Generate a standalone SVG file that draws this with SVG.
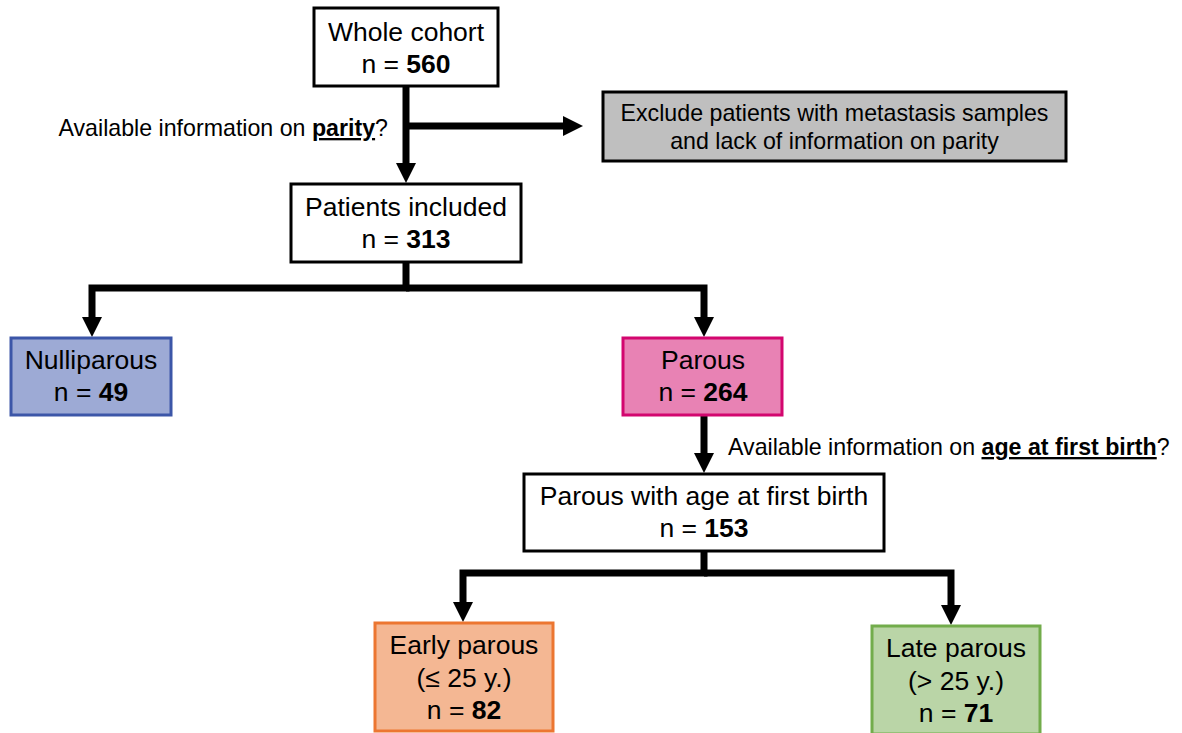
<svg xmlns="http://www.w3.org/2000/svg" width="1182" height="733" viewBox="0 0 1182 733">
<style>
text{font-family:"Liberation Sans",Arial,sans-serif;fill:#000;text-anchor:middle}
.t{font-size:26.5px}
.s{font-size:23.2px}
.b{font-weight:bold}
.u{font-weight:bold;text-decoration:underline}
.box{stroke-width:3}
.conn{fill:none;stroke:#000;stroke-width:7;stroke-linejoin:miter;stroke-linecap:butt}
</style>
<defs>
<marker id="ah" viewBox="0 -10 20 20" refX="1" refY="0" markerWidth="20" markerHeight="20" markerUnits="userSpaceOnUse" orient="auto">
<path d="M0,-10 L20,0 L0,10 z" fill="#000"/>
</marker>
</defs>
<rect width="1182" height="733" fill="#fff"/>
<g id="connectors">
<path class="conn" d="M406,86 V164" marker-end="url(#ah)"/>
<path class="conn" d="M406,126 H564" marker-end="url(#ah)"/>
<path class="conn" d="M406,262 V288 H92 V318" marker-end="url(#ah)"/>
<path class="conn" d="M406,288 H704 V318" marker-end="url(#ah)"/>
<path class="conn" d="M704,415 V454" marker-end="url(#ah)"/>
<path class="conn" d="M704,551 V573 H463 V603" marker-end="url(#ah)"/>
<path class="conn" d="M704,573 H951 V606" marker-end="url(#ah)"/>
<text class="s" x="388" y="136" style="text-anchor:end">Available information on <tspan class="u">parity</tspan>?</text>
<text class="s" x="728" y="455" style="text-anchor:start">Available information on <tspan class="u">age at first birth</tspan>?</text>
</g>
<g id="whole-cohort">
<rect class="box" x="314" y="8" width="184" height="78" fill="#fff" stroke="#000"/>
<text class="t" x="406" y="41">Whole cohort</text>
<text class="t" x="406" y="73">n = <tspan class="b">560</tspan></text>
</g>
<g id="exclude">
<rect class="box" x="603" y="92" width="463" height="69" fill="#bfbfbf" stroke="#000"/>
<text class="s" x="834.5" y="121">Exclude patients with metastasis samples</text>
<text class="s" x="834.5" y="149">and lack of information on parity</text>
</g>
<g id="patients-included">
<rect class="box" x="291" y="184" width="230" height="78" fill="#fff" stroke="#000"/>
<text class="t" x="406" y="216">Patients included</text>
<text class="t" x="406" y="248">n = <tspan class="b">313</tspan></text>
</g>
<g id="nulliparous">
<rect class="box" x="11" y="338" width="160" height="77" fill="#9daad5" stroke="#3c56a8"/>
<text class="t" x="91" y="369">Nulliparous</text>
<text class="t" x="91" y="401">n = <tspan class="b">49</tspan></text>
</g>
<g id="parous">
<rect class="box" x="623" y="338" width="159" height="77" fill="#e882b4" stroke="#d3066f"/>
<text class="t" x="703" y="369">Parous</text>
<text class="t" x="703" y="401">n = <tspan class="b">264</tspan></text>
</g>
<g id="parous-age">
<rect class="box" x="524" y="474" width="360" height="77" fill="#fff" stroke="#000"/>
<text class="t" x="704" y="505">Parous with age at first birth</text>
<text class="t" x="704" y="537">n = <tspan class="b">153</tspan></text>
</g>
<g id="early-parous">
<rect class="box" x="375" y="623" width="178" height="108" fill="#f4b793" stroke="#ec7631"/>
<text class="t" x="464" y="654">Early parous</text>
<text class="t" x="464" y="687">(≤ 25 y.)</text>
<text class="t" x="464" y="719">n = <tspan class="b">82</tspan></text>
</g>
<g id="late-parous">
<rect class="box" x="872" y="626" width="168" height="108" fill="#bad5a7" stroke="#72ac4b"/>
<text class="t" x="956" y="657">Late parous</text>
<text class="t" x="956" y="690">(&gt; 25 y.)</text>
<text class="t" x="956" y="722">n = <tspan class="b">71</tspan></text>
</g>
</svg>
